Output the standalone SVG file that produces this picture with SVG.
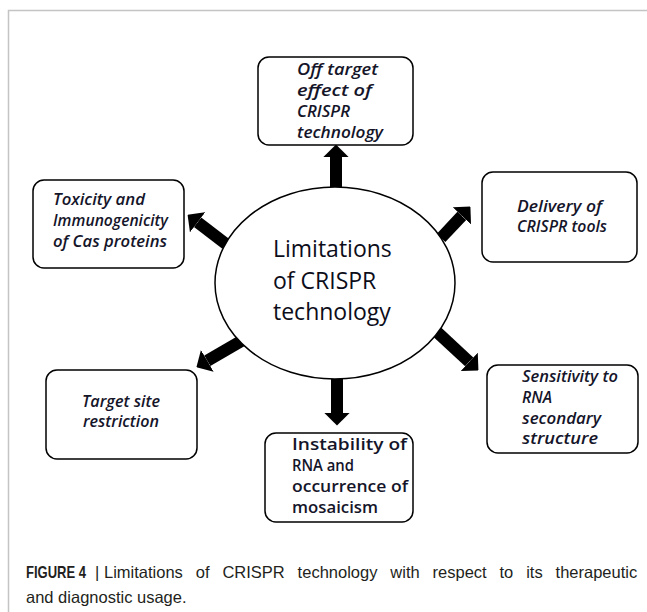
<svg xmlns="http://www.w3.org/2000/svg" width="647" height="612" viewBox="0 0 647 612">
<style>
.box{fill:#fff;stroke:#000;stroke-width:1.5}
.bt{font-family:"Open Sans","Liberation Sans",sans-serif;font-size:15.5px;font-style:italic;font-weight:600;fill:#15152a}
.bu{font-family:"Open Sans","Liberation Sans",sans-serif;font-size:15.5px;font-weight:600;fill:#15152a}
.ct{font-family:"Open Sans","Liberation Sans",sans-serif;font-size:23px;fill:#0d0d1a}
.arr{stroke:#000;stroke-width:12;fill:none;marker-end:url(#head)}
.cap{font-family:"Liberation Sans",Arial,sans-serif;font-size:16.5px;fill:#231f20}
</style>
<defs>
<marker id="head" viewBox="0 0 10 20" refX="0" refY="10" markerWidth="1.05" markerHeight="2.1" orient="auto" markerUnits="strokeWidth">
<path d="M0,0 L10,10 L0,20 z" fill="#000"/>
</marker>
</defs>
<rect x="0" y="0" width="647" height="612" fill="#fff"/>
<path d="M8.5,612 L8.5,10.5 L647,10.5" fill="none" stroke="#c4c4c4" stroke-width="1.5"/>

<g id="connectors">
<line class="arr" x1="336" y1="187" x2="336" y2="157"/>
<line class="arr" x1="337" y1="376" x2="337" y2="413"/>
<line class="arr" x1="226" y1="244" x2="197.6" y2="222.3"/>
<line class="arr" x1="441" y1="238" x2="461.8" y2="215.8"/>
<line class="arr" x1="243" y1="340" x2="207.3" y2="360.8"/>
<line class="arr" x1="437" y1="332" x2="469.2" y2="361.9"/>
</g>

<g id="center">
<ellipse cx="335" cy="283" rx="120" ry="96" fill="#fff" stroke="#000" stroke-width="1.5"/>
<text class="ct" x="273" y="257">Limitations</text>
<text class="ct" x="273" y="289">of CRISPR</text>
<text class="ct" x="273" y="320">technology</text>
</g>

<g id="offtarget">
<rect class="box" x="258" y="57" width="155" height="88" rx="11"/>
<text class="bt" x="297" y="75" textLength="81" lengthAdjust="spacingAndGlyphs">Off target</text>
<text class="bt" x="297" y="96" textLength="75" lengthAdjust="spacingAndGlyphs">effect of</text>
<text class="bt" x="297" y="117" textLength="53" lengthAdjust="spacingAndGlyphs">CRISPR</text>
<text class="bt" x="297" y="138" textLength="86" lengthAdjust="spacingAndGlyphs">technology</text>
</g>

<g id="toxicity">
<rect class="box" x="33" y="180" width="151" height="88" rx="11"/>
<text class="bt" x="53" y="205" textLength="92" lengthAdjust="spacingAndGlyphs">Toxicity and</text>
<text class="bt" x="53" y="226" textLength="115" lengthAdjust="spacingAndGlyphs">Immunogenicity</text>
<text class="bt" x="53" y="247" textLength="114" lengthAdjust="spacingAndGlyphs">of Cas proteins</text>
</g>

<g id="delivery">
<rect class="box" x="482" y="172" width="155" height="90" rx="11"/>
<text class="bt" x="517" y="212" textLength="85" lengthAdjust="spacingAndGlyphs">Delivery of</text>
<text class="bt" x="517" y="232" textLength="90" lengthAdjust="spacingAndGlyphs">CRISPR tools</text>
</g>

<g id="targetsite">
<rect class="box" x="46" y="370" width="151" height="89" rx="11"/>
<text class="bt" x="82" y="407" textLength="78" lengthAdjust="spacingAndGlyphs">Target site</text>
<text class="bt" x="83" y="427" textLength="76" lengthAdjust="spacingAndGlyphs">restriction</text>
</g>

<g id="sensitivity">
<rect class="box" x="487" y="365" width="151" height="88" rx="11"/>
<text class="bt" x="522" y="382" textLength="96" lengthAdjust="spacingAndGlyphs">Sensitivity to</text>
<text class="bt" x="522" y="403" textLength="30" lengthAdjust="spacingAndGlyphs">RNA</text>
<text class="bt" x="522" y="424" textLength="79" lengthAdjust="spacingAndGlyphs">secondary</text>
<text class="bt" x="522" y="444" textLength="76" lengthAdjust="spacingAndGlyphs">structure</text>
</g>

<g id="instability">
<rect class="box" x="265" y="433" width="148" height="89" rx="11"/>
<text class="bu" x="292" y="450" textLength="115" lengthAdjust="spacingAndGlyphs">Instability of</text>
<text class="bu" x="292" y="471" textLength="62" lengthAdjust="spacingAndGlyphs">RNA and</text>
<text class="bu" x="292" y="492" textLength="116" lengthAdjust="spacingAndGlyphs">occurrence of</text>
<text class="bu" x="292" y="513" textLength="86" lengthAdjust="spacingAndGlyphs">mosaicism</text>
</g>

<g id="caption">
<text class="cap" transform="translate(26,578) scale(0.79,1)" font-weight="bold">FIGURE 4</text>
<text class="cap" x="95" y="578">|</text>
<text class="cap" x="104" y="578" word-spacing="8.3">Limitations of CRISPR technology with respect to its therapeutic</text>
<text class="cap" x="26" y="603">and diagnostic usage.</text>
</g>
</svg>
